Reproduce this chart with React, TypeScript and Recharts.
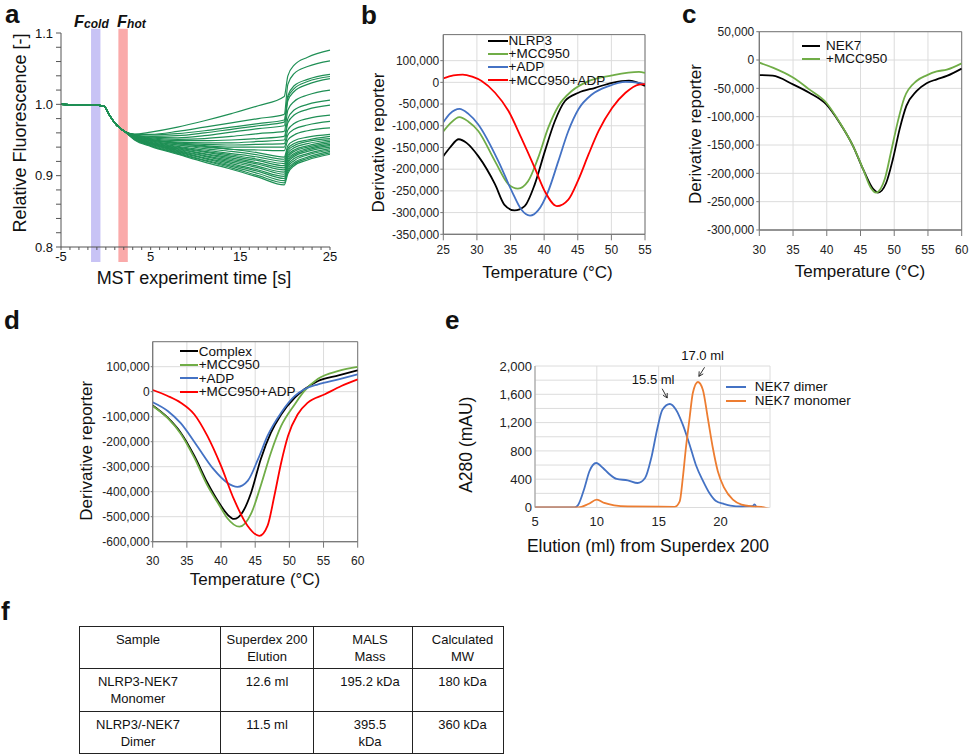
import React from "react";
import {
  CartesianGrid, Label, Legend, Line, LineChart, ReferenceArea, ReferenceLine, XAxis, YAxis,
} from "recharts";

const FONT = '"Liberation Sans", Arial, Helvetica, sans-serif';

// ---------- a: MST traces ----------
const mstLeadTimes = [-5, -2.5, -0.2, 0.1, 0.5, 1.2, 2.1];
const mstLeadValues = [1.0, 0.999, 0.998, 0.992, 0.983, 0.971, 0.962];
const mstTailTimes = [3.2, 5, 8, 11, 14, 17, 19.9, 20.3, 21, 22.5, 25];
// traces that turn upwards after the IR laser is on
const mstRising = [
  [0.958, 0.961, 0.968, 0.977, 0.987, 0.998, 1.011, 1.040, 1.055, 1.066, 1.076],
  [0.958, 0.958, 0.962, 0.968, 0.974, 0.980, 0.986, 1.028, 1.043, 1.053, 1.061],
  [0.958, 0.957, 0.959, 0.963, 0.968, 0.973, 0.978, 1.012, 1.026, 1.035, 1.042],
  [0.957, 0.955, 0.956, 0.960, 0.965, 0.970, 0.975, 1.009, 1.022, 1.032, 1.039],
  [0.957, 0.954, 0.953, 0.956, 0.961, 0.966, 0.970, 1.005, 1.018, 1.028, 1.036],
  [0.957, 0.953, 0.951, 0.952, 0.955, 0.959, 0.962, 0.992, 1.004, 1.013, 1.020],
  [0.957, 0.952, 0.949, 0.949, 0.950, 0.952, 0.955, 0.980, 0.992, 1.000, 1.006],
  [0.956, 0.951, 0.947, 0.946, 0.946, 0.948, 0.950, 0.974, 0.985, 0.993, 0.999],
  [0.956, 0.951, 0.946, 0.944, 0.943, 0.944, 0.945, 0.964, 0.973, 0.980, 0.985],
  [0.956, 0.950, 0.945, 0.942, 0.940, 0.940, 0.940, 0.957, 0.965, 0.971, 0.976],
  [0.955, 0.949, 0.943, 0.940, 0.937, 0.936, 0.935, 0.950, 0.957, 0.963, 0.967],
];
// the main bundle that keeps falling
const mstFalling = [
  [0.955, 0.950, 0.945, 0.941, 0.937, 0.932, 0.926, 0.942, 0.949, 0.954, 0.958],
  [0.955, 0.949, 0.943, 0.938, 0.934, 0.929, 0.923, 0.938, 0.945, 0.950, 0.955],
  [0.954, 0.948, 0.941, 0.936, 0.931, 0.926, 0.920, 0.935, 0.942, 0.948, 0.952],
  [0.954, 0.947, 0.940, 0.934, 0.929, 0.923, 0.917, 0.932, 0.939, 0.945, 0.950],
  [0.953, 0.946, 0.939, 0.933, 0.927, 0.921, 0.914, 0.929, 0.936, 0.942, 0.948],
  [0.953, 0.946, 0.938, 0.931, 0.925, 0.918, 0.911, 0.926, 0.934, 0.940, 0.946],
  [0.953, 0.945, 0.937, 0.930, 0.923, 0.916, 0.908, 0.923, 0.931, 0.938, 0.944],
  [0.952, 0.945, 0.936, 0.928, 0.921, 0.913, 0.905, 0.920, 0.929, 0.936, 0.942],
  [0.952, 0.944, 0.935, 0.927, 0.919, 0.911, 0.902, 0.918, 0.927, 0.934, 0.940],
  [0.952, 0.944, 0.934, 0.925, 0.917, 0.908, 0.899, 0.915, 0.924, 0.931, 0.938],
  [0.951, 0.943, 0.933, 0.924, 0.915, 0.906, 0.896, 0.912, 0.921, 0.929, 0.936],
  [0.951, 0.942, 0.932, 0.922, 0.913, 0.903, 0.893, 0.909, 0.918, 0.926, 0.934],
  [0.951, 0.942, 0.931, 0.921, 0.911, 0.900, 0.890, 0.906, 0.916, 0.924, 0.932],
  [0.950, 0.941, 0.930, 0.919, 0.909, 0.898, 0.887, 0.903, 0.914, 0.922, 0.930],
];
const mstTimeTicks = [-5, -4, -3, -2, -1, 0, 1, 2, 3, 4, 5, 6, 7, 8, 9, 10, 11, 12, 13, 14, 15, 16, 17, 18, 19, 20, 21, 22, 23, 24, 25];
const mstTimeLabels = [-5, 5, 15, 25];
const mstValueTicks = [0.8, 0.82, 0.84, 0.86, 0.88, 0.9, 0.92, 0.94, 0.96, 0.98, 1.0, 1.02, 1.04, 1.06, 1.08, 1.1];
const coldWindow = [-1.65, -0.6];
const hotWindow = [1.4, 2.45];

// ---------- b: NLRP3 DSF ----------
type Pt = [number, number];
const nlrp3: Pt[] = [[25, -170000], [26, -150000], [27.3, -131000], [28.5, -140000], [30.2, -170000], [32.7, -235000], [34.1, -282000], [35.6, -295000], [37.1, -285000], [38.6, -235000], [40.1, -159000], [41.6, -89000], [43.1, -43000], [45.1, -24000], [47.6, -12500], [50.1, -1000], [52.6, 4000], [55, -8000]];
const nlrp3Mcc: Pt[] = [[25, -113000], [26, -95000], [27.4, -80000], [28.7, -90000], [30.2, -112000], [32.7, -182000], [34.7, -235000], [36.1, -245000], [37.6, -228000], [39.1, -174000], [40.6, -105000], [42.1, -55000], [44.1, -20000], [46.6, 3000], [50.1, 16000], [54.1, 24000], [55, 22000]];
const nlrp3Adp: Pt[] = [[25, -92000], [26, -72000], [27.4, -61000], [28.7, -72000], [30.2, -97000], [33.2, -182000], [35.2, -251000], [36.6, -293000], [37.9, -307000], [39.1, -295000], [40.6, -251000], [42.1, -182000], [43.6, -112000], [45.1, -62000], [47.1, -28000], [49.6, -8600], [52.1, 1000], [54.1, -1000], [55, -5000]];
const nlrp3MccAdp: Pt[] = [[25, 9000], [26.5, 16000], [27.9, 18000], [29.3, 13000], [30.7, 3000], [32.7, -24000], [34.7, -66000], [36.6, -128000], [38.6, -197000], [40.1, -251000], [41.9, -285000], [43.6, -270000], [45.1, -224000], [46.6, -166000], [48.1, -112000], [50.1, -59000], [52.1, -24000], [54.1, -5000], [55, -4000]];

// ---------- c: NEK7 DSF ----------
const nek7: Pt[] = [[30, -26500], [32, -27600], [35, -43000], [37.4, -57700], [39.9, -78000], [41.9, -110600], [43.9, -151800], [45.4, -193000], [46.9, -228000], [47.6, -234000], [48.8, -217000], [49.8, -175000], [50.8, -122000], [51.8, -81000], [53.3, -55000], [54.8, -41000], [56.3, -34000], [57.8, -28000], [60, -15000]];
const nek7Mcc: Pt[] = [[30, -4700], [32, -13500], [35, -31000], [37.4, -51800], [39.9, -75000], [41.9, -110000], [43.9, -152000], [45.4, -193000], [46.5, -225000], [47.3, -234000], [48.6, -210000], [49.5, -163500], [50.5, -110000], [51.5, -66500], [53.3, -37000], [54.8, -27000], [56.3, -20000], [57.8, -17000], [60, -5900]];

// ---------- d: complex DSF ----------
const complex: Pt[] = [[30, -55000], [32.2, -104000], [34.1, -164000], [36.1, -257000], [38, -364000], [39.7, -444000], [40.9, -490000], [41.9, -509000], [43.1, -484000], [44.4, -404000], [45.8, -271000], [47.3, -164000], [48.8, -91000], [50.8, -24000], [52.2, 9600], [54.2, 43000], [57.2, 65600], [60, 85600]];
const complexMcc: Pt[] = [[30, -57000], [32.2, -106000], [34.1, -168000], [36.1, -265000], [38, -375000], [39.7, -452000], [40.9, -505000], [42.7, -540000], [44.4, -488000], [45.8, -377000], [47.3, -244000], [48.8, -137000], [50.8, -50000], [52.2, 3000], [54.2, 52000], [57.2, 83000], [60, 99000]];
const complexAdp: Pt[] = [[30, -42000], [32.2, -77000], [34.1, -126000], [36.5, -217000], [38.9, -310000], [40.9, -364000], [42.4, -381000], [43.9, -357000], [45.4, -271000], [46.8, -177000], [48.8, -84000], [50.8, -17000], [52.2, 9600], [54.2, 29600], [57.2, 49600], [60, 69600]];
const complexMccAdp: Pt[] = [[30, 6800], [32.2, -17000], [34.1, -44000], [36.1, -91000], [38, -177000], [40, -297000], [41.9, -431000], [43.9, -537000], [45.6, -577000], [46.8, -537000], [47.8, -417000], [48.8, -284000], [49.8, -177000], [51.2, -91000], [52.7, -44000], [55.2, -10400], [57.6, 22800], [60, 49600]];

// ---------- e: SEC ----------
const dimerTrace: Pt[] = [[5, 0], [8.2, 0], [8.5, 40], [9, 276], [9.4, 512], [9.95, 629], [10.5, 558], [11, 473], [11.6, 403], [12.5, 384], [13.3, 346], [13.9, 417], [14.4, 700], [14.9, 1124], [15.3, 1383], [15.9, 1463], [16.4, 1383], [16.95, 1171], [17.5, 888], [18, 605], [18.6, 370], [19.1, 205], [19.6, 96], [20.3, 49], [20.8, 26], [21.7, 14], [22.6, 20], [22.75, 45], [22.9, 5]];
const monomerTrace: Pt[] = [[5, 0], [8.5, 0], [9.3, 49], [10, 110], [10.6, 64], [11.4, 30], [12.5, 14], [16.3, 10], [16.7, 87], [16.95, 417], [17.2, 841], [17.5, 1265], [17.76, 1618], [18.17, 1774], [18.57, 1665], [18.97, 1265], [19.38, 841], [19.78, 512], [20.3, 276], [21, 110], [21.7, 40], [22.5, 17], [23.3, 10], [24, -25]];
const secTicksX = [5, 10, 15, 20];
const secTicksY = [0, 200, 400, 600, 800, 1000, 1200, 1400, 1600, 1800, 2000];
const peakNotes = [
  { text: "15.5 ml", from: { x: 15.28, y: 1679 }, to: { x: 15.69, y: 1548 }, dx: -9, dy: -5 },
  { text: "17.0 ml", from: { x: 18.71, y: 1982 }, to: { x: 18.25, y: 1854 }, dx: -2, dy: -7 },
];

// ---------- f: table ----------
const tableHead = ["Sample", "Superdex 200\nElution", "MALS\nMass", "Calculated\nMW"];
const tableRows = [
  ["NLRP3-NEK7\nMonomer", "12.6 ml", "195.2 kDa", "180 kDa"],
  ["NLRP3/-NEK7\nDimer", "11.5 ml", "395.5\nkDa", "360 kDa"],
];

type Box = { left: number; top: number; width: number; height: number };
type Plot = { l: number; t: number; r: number; b: number };
type Series = { name: string; color: string; pts: Pt[] };
type KeyPos = { left: number; top: number; line: number; gap: number; rowH: number };

const toRows = (pts: Pt[]) => pts.map(([t, v]) => ({ t, v }));
const commas = (v: number) => v.toLocaleString("en-US");

const xTitle = (text: string, x: number, y: number, size: number) => (
  <Label content={() => <text x={x} y={y} textAnchor="middle" fontSize={size} fill="#111">{text}</text>} />
);
const yTitle = (text: string, x: number, y: number, size: number) => (
  <Label
    content={() => (
      <text x={x} y={y} transform={`rotate(-90 ${x} ${y})`} textAnchor="middle" dominantBaseline="central" fontSize={size} fill="#111">
        {text}
      </text>
    )}
  />
);

function LineKey({ items, pos, size }: { items: { name: string; color: string }[]; pos: KeyPos; size: number }) {
  return (
    <div style={{ fontSize: size, lineHeight: `${pos.rowH}px`, color: "#111", fontFamily: FONT }}>
      {items.map((it) => (
        <div key={it.name} style={{ display: "flex", alignItems: "center", height: pos.rowH, whiteSpace: "nowrap" }}>
          <span style={{ display: "inline-block", width: pos.line, height: 2, background: it.color, marginRight: pos.gap }} />
          <span>{it.name}</span>
        </div>
      ))}
    </div>
  );
}

function PanelLetter({ ch, left, top }: { ch: string; left: number; top: number }) {
  return (
    <div style={{ position: "absolute", left, top, fontSize: 26, lineHeight: 1, fontWeight: 700 }}>{ch}</div>
  );
}

function MstPanel() {
  const box: Box = { left: 0, top: 0, width: 345, height: 295 };
  const plot: Plot = { l: 61, t: 33, r: 330, b: 247 };
  const curves = [...mstRising, ...mstFalling];
  const times = [...mstLeadTimes, ...mstTailTimes];
  const rows = times.map((t, i) => {
    const row: Record<string, number> = { t };
    curves.forEach((c, k) => {
      row[`c${k}`] = i < mstLeadTimes.length ? mstLeadValues[i] : c[i - mstLeadTimes.length];
    });
    return row;
  });
  const band = { y1: 0.779, y2: 1.106, stroke: "none", fillOpacity: 0.6, ifOverflow: "visible" as const };
  return (
    <div style={{ position: "absolute", left: box.left, top: box.top }}>
      <LineChart
        width={box.width}
        height={box.height}
        data={rows}
        margin={{ top: plot.t - box.top, right: box.left + box.width - plot.r, bottom: 0, left: 0 }}
      >
        <XAxis
          type="number" dataKey="t" domain={[-5, 25]} ticks={mstTimeTicks} interval={0}
          height={box.top + box.height - plot.b} stroke="#555" tickSize={3} tickMargin={2}
          tick={{ fontSize: 13, fill: "#111" }}
          tickFormatter={(v: number) => (mstTimeLabels.includes(v) ? String(v) : "")}
          label={xTitle("MST experiment time [s]", 194, 284, 18)}
        />
        <YAxis
          type="number" domain={[0.8, 1.1]} ticks={mstValueTicks} interval={0} allowDataOverflow
          width={plot.l - box.left} stroke="#555" tickSize={5} tickMargin={3}
          tick={{ fontSize: 13, fill: "#111" }}
          tickFormatter={(v: number) => (Math.round(v * 100) % 10 === 0 ? v.toFixed(1) : "")}
          label={yTitle("Relative Fluorescence [-]", 20, 133, 18)}
        />
        <ReferenceArea x1={coldWindow[0]} x2={coldWindow[1]} fill="#a39bee" {...band} />
        <ReferenceArea x1={hotWindow[0]} x2={hotWindow[1]} fill="#f77171" {...band} />
        {curves.map((_, k) => (
          <Line
            key={k} dataKey={`c${k}`} type="monotone" stroke="#1f8f55" strokeWidth={1.2}
            dot={false} isAnimationActive={false}
          />
        ))}
      </LineChart>
    </div>
  );
}

type MeltProps = {
  box: Box; plot: Plot;
  xDomain: [number, number]; xTicks: number[];
  yDomain: [number, number]; yTicks: number[]; yFormat: (v: number) => string;
  series: Series[]; keyPos: KeyPos;
  yTitleAt: [number, number]; xTitleAt: [number, number];
  yTick: [number, number]; xTick: [number, number];
};

function MeltCurves(p: MeltProps) {
  const { box, plot } = p;
  return (
    <div style={{ position: "absolute", left: box.left, top: box.top }}>
      <LineChart
        width={box.width}
        height={box.height}
        margin={{ top: plot.t - box.top, right: box.left + box.width - plot.r, bottom: 0, left: 0 }}
      >
        <CartesianGrid stroke="#dcdcdc" />
        <XAxis
          type="number" dataKey="t" domain={p.xDomain} ticks={p.xTicks} interval={0} allowDataOverflow
          height={box.top + box.height - plot.b} stroke="#777" tickSize={p.xTick[0]} tickMargin={p.xTick[1]}
          tick={{ fontSize: 12, fill: "#222" }}
          label={xTitle("Temperature (°C)", p.xTitleAt[0] - box.left, p.xTitleAt[1] - box.top, 17)}
        />
        <YAxis
          type="number" domain={p.yDomain} ticks={p.yTicks} interval={0} allowDataOverflow
          width={plot.l - box.left} stroke="#777" tickSize={p.yTick[0]} tickMargin={p.yTick[1]}
          tick={{ fontSize: 12, fill: "#222" }} tickFormatter={p.yFormat}
          label={yTitle("Derivative reporter", p.yTitleAt[0] - box.left, p.yTitleAt[1] - box.top, 17)}
        />
        <ReferenceArea
          x1={p.xDomain[0]} x2={p.xDomain[1]} y1={p.yDomain[0]} y2={p.yDomain[1]}
          fill="none" stroke="#777" ifOverflow="visible"
        />
        {p.series.map((s) => (
          <Line
            key={s.name} data={toRows(s.pts)} dataKey="v" name={s.name} type="monotone"
            stroke={s.color} strokeWidth={1.8} dot={false} isAnimationActive={false}
          />
        ))}
        <Legend
          layout="vertical" align="center" verticalAlign="middle"
          wrapperStyle={{ left: p.keyPos.left - box.left, top: p.keyPos.top - box.top, width: "auto" }}
          content={() => <LineKey items={p.series} pos={p.keyPos} size={13.5} />}
        />
      </LineChart>
    </div>
  );
}

const arrowNote = (text: string, dx: number, dy: number) => (props: any) => {
  const { x1, y1, x2, y2 } = props;
  const a = Math.atan2(y2 - y1, x2 - x1);
  const h = 5;
  const p1 = `${x2 - h * Math.cos(a - 0.5)},${y2 - h * Math.sin(a - 0.5)}`;
  const p2 = `${x2 - h * Math.cos(a + 0.5)},${y2 - h * Math.sin(a + 0.5)}`;
  return (
    <g>
      <line x1={x1} y1={y1} x2={x2} y2={y2} stroke="#333" strokeWidth={1} />
      <polyline points={`${p1} ${x2},${y2} ${p2}`} fill="none" stroke="#333" strokeWidth={1} />
      <text x={x1 + dx} y={y1 + dy} textAnchor="middle" fontSize={13} fill="#111">{text}</text>
    </g>
  );
};

function SecPanel() {
  const box: Box = { left: 440, top: 300, width: 420, height: 265 };
  const plot: Plot = { l: 535, t: 366, r: 770, b: 507.5 };
  const series: Series[] = [
    { name: "NEK7 dimer", color: "#4472c4", pts: dimerTrace },
    { name: "NEK7 monomer", color: "#ed7d31", pts: monomerTrace },
  ];
  const keyPos: KeyPos = { left: 726.3, top: 379.8, line: 20, gap: 8.4, rowH: 14 };
  return (
    <div style={{ position: "absolute", left: box.left, top: box.top }}>
      <LineChart
        width={box.width}
        height={box.height}
        margin={{ top: plot.t - box.top, right: box.left + box.width - plot.r, bottom: 0, left: 0 }}
      >
        <CartesianGrid stroke="#dcdcdc" />
        <XAxis
          type="number" dataKey="t" domain={[5, 24]} ticks={secTicksX} interval={0} allowDataOverflow
          height={box.top + box.height - plot.b} axisLine={false} tickLine={false} tickSize={0} tickMargin={9}
          tick={{ fontSize: 13, fill: "#222" }}
          label={xTitle("Elution (ml) from Superdex 200", 648 - box.left, 551.7 - box.top, 17.5)}
        />
        <YAxis
          type="number" domain={[0, 2000]} ticks={secTicksY} interval={0} allowDataOverflow
          width={plot.l - box.left} stroke="#999" tickLine={false} tickSize={0} tickMargin={3}
          tick={{ fontSize: 13, fill: "#222" }}
          tickFormatter={(v: number) => (v % 400 === 0 ? commas(v) : "")}
          label={yTitle("A280 (mAU)", 466 - box.left, 444.7 - box.top, 17.5)}
        />
        {series.map((s) => (
          <Line
            key={s.name} data={toRows(s.pts)} dataKey="v" name={s.name} type="monotone"
            stroke={s.color} strokeWidth={1.8} dot={false} isAnimationActive={false}
          />
        ))}
        {peakNotes.map((n) => (
          <ReferenceLine key={n.text} segment={[n.from, n.to]} shape={arrowNote(n.text, n.dx, n.dy)} />
        ))}
        <Legend
          layout="vertical" align="center" verticalAlign="middle"
          wrapperStyle={{ left: keyPos.left - box.left, top: keyPos.top - box.top, width: "auto" }}
          content={() => <LineKey items={series} pos={keyPos} size={13.5} />}
        />
      </LineChart>
    </div>
  );
}

function MassTable() {
  const widths = [141, 93, 99, 91];
  const pads = [
    { paddingRight: 24 }, {}, { paddingLeft: 14 }, { paddingLeft: 9 },
  ];
  const heights = [42, 43, 42];
  const cell = (text: string, i: number) => (
    <td
      key={i}
      style={{
        border: "1px solid #222", verticalAlign: "top", padding: "4px 0 0", whiteSpace: "pre-line",
        textAlign: "center", ...pads[i],
      }}
    >
      {text}
    </td>
  );
  return (
    <table
      style={{
        position: "absolute", left: 79, top: 626, borderCollapse: "collapse", fontSize: 13,
        lineHeight: "17px", color: "#111", tableLayout: "fixed", width: 424,
      }}
    >
      <colgroup>
        {widths.map((w, i) => <col key={i} style={{ width: w }} />)}
      </colgroup>
      <tbody>
        {[tableHead, ...tableRows].map((r, k) => (
          <tr key={k} style={{ height: heights[k] }}>{r.map(cell)}</tr>
        ))}
      </tbody>
    </table>
  );
}

export default function App() {
  const bSeries: Series[] = [
    { name: "NLRP3", color: "#000000", pts: nlrp3 },
    { name: "+MCC950", color: "#70ad47", pts: nlrp3Mcc },
    { name: "+ADP", color: "#4472c4", pts: nlrp3Adp },
    { name: "+MCC950+ADP", color: "#ff0000", pts: nlrp3MccAdp },
  ];
  const cSeries: Series[] = [
    { name: "NEK7", color: "#000000", pts: nek7 },
    { name: "+MCC950", color: "#70ad47", pts: nek7Mcc },
  ];
  const dSeries: Series[] = [
    { name: "Complex", color: "#000000", pts: complex },
    { name: "+MCC950", color: "#70ad47", pts: complexMcc },
    { name: "+ADP", color: "#4472c4", pts: complexAdp },
    { name: "+MCC950+ADP", color: "#ff0000", pts: complexMccAdp },
  ];

  return (
    <div
      style={{
        position: "absolute", left: 0, top: 0, width: 971, height: 756, background: "#fff",
        fontFamily: FONT, color: "#111", overflow: "hidden",
      }}
    >
      <MstPanel />
      <div style={{ position: "absolute", left: 74, top: 13, fontSize: 16.5, lineHeight: 1, fontWeight: 700, fontStyle: "italic" }}>
        F<span style={{ fontSize: 12, position: "relative", top: 1 }}>cold</span>
      </div>
      <div style={{ position: "absolute", left: 117, top: 13, fontSize: 16.5, lineHeight: 1, fontWeight: 700, fontStyle: "italic" }}>
        F<span style={{ fontSize: 12, position: "relative", top: 1 }}>hot</span>
      </div>

      <MeltCurves
        box={{ left: 355, top: 0, width: 305, height: 295 }}
        plot={{ l: 443.3, t: 34.6, r: 645, b: 234.3 }}
        xDomain={[25, 55]} xTicks={[25, 30, 35, 40, 45, 50, 55]}
        yDomain={[-350000, 110000]}
        yTicks={[-350000, -300000, -250000, -200000, -150000, -100000, -50000, 0, 50000]}
        yFormat={(v) => (v === 50000 ? "100,000" : commas(v))}
        series={bSeries}
        keyPos={{ left: 488, top: 34, line: 20, gap: 0.5, rowH: 13.2 }}
        yTitleAt={[378.3, 142.5]} xTitleAt={[547.5, 278.3]}
        yTick={[3, 1]} xTick={[6, 4.7]}
      />
      <MeltCurves
        box={{ left: 672, top: 0, width: 299, height: 295 }}
        plot={{ l: 759.3, t: 31.7, r: 961.7, b: 230 }}
        xDomain={[30, 60]} xTicks={[30, 35, 40, 45, 50, 55, 60]}
        yDomain={[-300000, 50000]}
        yTicks={[-300000, -250000, -200000, -150000, -100000, -50000, 0, 50000]}
        yFormat={commas}
        series={cSeries}
        keyPos={{ left: 802, top: 39.3, line: 18, gap: 6, rowH: 13.2 }}
        yTitleAt={[695, 134]} xTitleAt={[860, 277.3]}
        yTick={[3, 2]} xTick={[6, 9]}
      />
      <MeltCurves
        box={{ left: 60, top: 300, width: 310, height: 300 }}
        plot={{ l: 152.7, t: 341.7, r: 357.7, b: 541.7 }}
        xDomain={[30, 60]} xTicks={[30, 35, 40, 45, 50, 55, 60]}
        yDomain={[-600000, 200000]}
        yTicks={[-600000, -500000, -400000, -300000, -200000, -100000, 0, 100000]}
        yFormat={commas}
        series={dSeries}
        keyPos={{ left: 179.7, top: 344.5, line: 18.3, gap: 0.7, rowH: 13.5 }}
        yTitleAt={[86.7, 450.8]} xTitleAt={[255, 585]}
        yTick={[2, 1]} xTick={[6, 8.3]}
      />
      <SecPanel />
      <MassTable />

      <PanelLetter ch="a" left={5} top={1} />
      <PanelLetter ch="b" left={361} top={2} />
      <PanelLetter ch="c" left={682} top={1} />
      <PanelLetter ch="d" left={4} top={307} />
      <PanelLetter ch="e" left={445} top={307} />
      <PanelLetter ch="f" left={1} top={598} />
    </div>
  );
}
